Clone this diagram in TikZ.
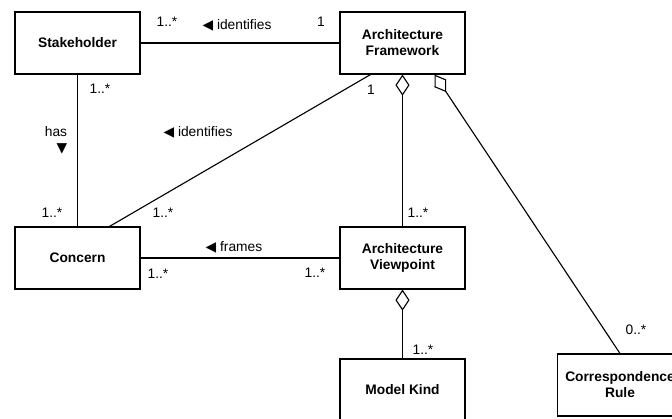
\documentclass[tikz,border=0pt]{standalone}
\usepackage{fontspec}
\setmainfont{Liberation Sans}
\newfontfamily\symfont{DejaVu Sans}
\usetikzlibrary{arrows.meta}
\newcommand{\lefttri}{{\symfont ◀}}
\newcommand{\downtri}{{\symfont ▼}}

\begin{document}
\begin{tikzpicture}[x=0.025cm, y=-0.025cm, line width=0.8pt,
    every node/.style={font=\fontsize{9.8}{11.3}\selectfont},
    class/.style={draw, minimum width=3.125cm, minimum height=1.55cm, align=center,
        font=\fontsize{9.8}{11.3}\selectfont\bfseries},
    agg/.style={{Diamond[open, length=15pt, width=10pt]}-}]

    \clip (0,0) rectangle (672,419);

    % Classes
    \node at (77.5,43) (stake) [class] {Stakeholder};
    \node at (402.5,43) (frame) [class] {Architecture\\Framework};
    \node at (77.5,258) (concern) [class] {Concern};
    \node at (402.5,258) (view) [class] {Architecture\\Viewpoint};
    \node at (402.5,390) (kind) [class] {Model Kind};
    \node at (620,385) (rule) [class] {Correspondence\\Rule};

    % Associations
    \draw (stake) -- (frame);
    \draw (stake) -- (concern);
    \draw ([xshift=0.8cm]concern.north) -- ([xshift=-0.8cm]frame.south);
    \draw (concern) -- (view);
    \draw[agg] (frame) -- (view);
    \draw[agg] (view) -- (kind);
    \draw[agg] ([xshift=0.8cm]frame.south) -- (rule.north);

    % Labels
    \node at (167,22) (stakemult) {1..*};
    \node at (237,25) (stakeid) {\lefttri\ identifies};
    \node at (321,22) (framemult) {1};
    \node at (100,89) (stakehas) {1..*};
    \node at (56,140) (has) [align=right] {has\\\downtri};
    \node at (198,132) (concernid) {\lefttri\ identifies};
    \node at (371,90) (frameone) {1};
    \node at (52,213) (concernhas) {1..*};
    \node at (163,213) (concernid2) {1..*};
    \node at (234,247) (frames) {\lefttri\ frames};
    \node at (158,274) (concernfr) {1..*};
    \node at (315,273) (viewfr) {1..*};
    \node at (418,213) (viewagg) {1..*};
    \node at (423,350) (kindagg) {1..*};
    \node at (636,330) (ruleagg) {0..*};

\end{tikzpicture}
\end{document}
